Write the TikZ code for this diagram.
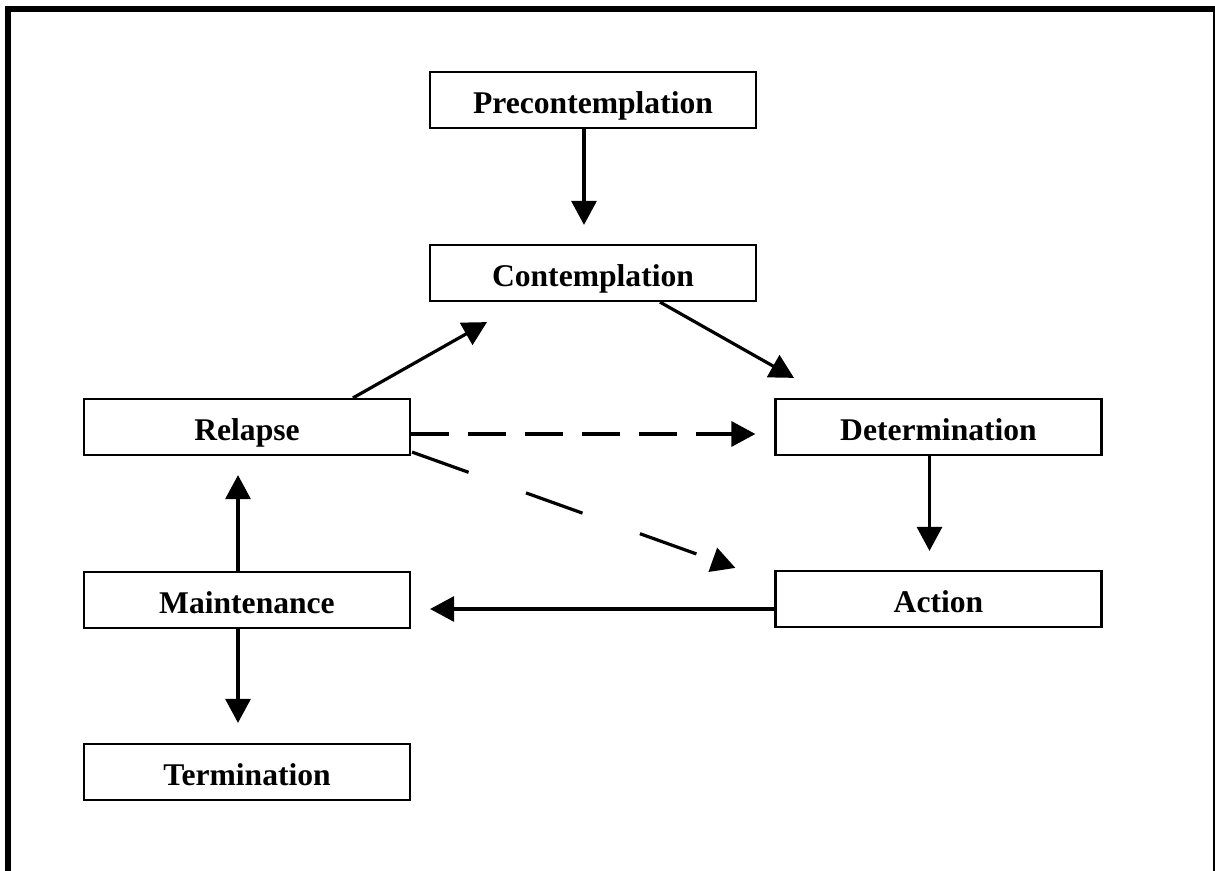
\documentclass[tikz,border=0pt]{standalone}
\usepackage{fontspec}
\setmainfont{Liberation Serif}
\usetikzlibrary{arrows.meta,calc}
\begin{document}
\begin{tikzpicture}[x=0.5pt,y=-0.5pt,
  stagebox/.style={draw, line width=1.1pt, minimum width=163pt, minimum height=28pt, inner sep=0pt, text height=13.5pt, text depth=0pt, font=\bfseries\fontsize{15.8}{19}\selectfont},
  arr/.style={line width=1.6pt, -{Triangle[length=12pt,width=12.5pt]}}]
\useasboundingbox (0,0) rectangle (1215,871);
\clip (0,0) rectangle (1215,871);
\draw[line width=3pt] (7.5,9.5) rectangle (1216,873.5);
\node[stagebox] (pre) at (593,100) {Precontemplation};
\node[stagebox] (con) at (593,273) {Contemplation};
\node[stagebox] (rel) at (247,427) {Relapse};
\node[stagebox] (det) at (938.5,427) {Determination};
\node[stagebox] (mai) at (247,600) {Maintenance};
\node[stagebox] (act) at (938.5,599) {Action};
\node[stagebox] (ter) at (247,772) {Termination};
\draw[arr] ($(pre.south)+(-9,0)$) -- ($(con.north)+(-9,-19)$);
\draw[arr] ($(con.south)+(67,0)$) -- ($(det.north)+(-144.5,-20)$);
\draw[arr] ($(rel.north)+(106,0)$) -- ($(con.south)+(-106,20)$);
\draw[arr, dash pattern=on 19pt off 9.5pt] ($(rel.east)+(0,7)$) -- ($(det.west)+(-19,7)$);
\draw[arr, dash pattern=on 30pt off 30.5pt] ($(rel.south east)+(1,-4)$) -- ($(act.north west)+(-39,-2)$);
\draw[arr] ($(det.south)+(-9,0)$) -- ($(act.north)+(-9,-19)$);
\draw[arr] ($(act.west)+(0,10)$) -- ($(mai.east)+(19,9)$);
\draw[arr] ($(mai.north)+(-9,0)$) -- ($(rel.south)+(-9,19)$);
\draw[arr] ($(mai.south)+(-9,0)$) -- ($(ter.north)+(-9,-20)$);
\end{tikzpicture}
\end{document}
